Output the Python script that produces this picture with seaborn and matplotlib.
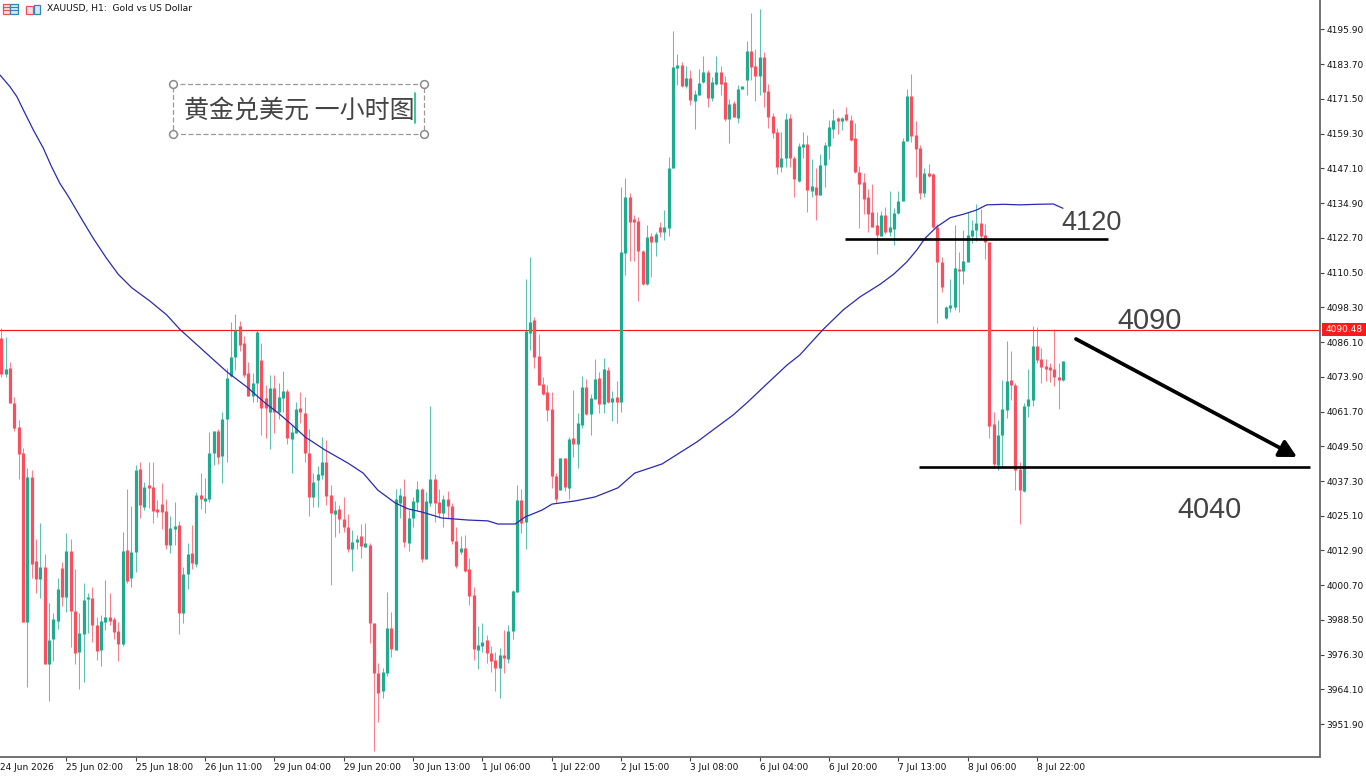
import matplotlib
matplotlib.use("Agg")
import matplotlib.pyplot as plt
from matplotlib.patches import Rectangle
import numpy as np
import pandas as pd
import seaborn as sns

TITLE = "XAUUSD, H1:  Gold vs US Dollar"
CHART_NOTE = "黄金兑美元 一小时图"
LAST_PRICE = 4090.48
LEVEL_UP = 4122.3
LEVEL_DOWN = 4042.2

opens = [4087.4,4074.9,4076.9,4064.8,4056.4,4047.0,3987.9,4038.6,4009.3,4002.8,4007.0,3973.0,3981.7,3988.2,4006.6,3996.7,4012.7,3991.8,3977.1,3983.4,3995.7,3996.3,3986.7,3977.9,3987.8,3989.4,3988.7,3984.6,3980.0,4013.1,
4003.4,4012.5,4041.5,4028.1,4035.2,4035.2,4027.1,4029.1,4026.9,4014.8,4020.6,4021.9,3990.8,4004.5,4011.9,4008.2,4032.4,4030.4,4031.0,4047.3,4055.0,4046.1,4059.0,4074.2,4080.8,4091.8,4085.7,4075.1,4067.3,4071.9,
4079.8,4066.4,4061.7,4069.9,4061.7,4066.4,4069.0,4052.1,4054.3,4062.8,4061.3,4047.3,4031.8,4037.5,4039.4,4043.9,4032.4,4025.7,4027.5,4023.9,4021.3,4013.4,4016.0,4018.0,4014.3,4014.8,3987.3,3969.7,3963.5,3970.0,
3985.6,3977.9,4029.5,4032.2,4015.6,4024.2,4030.1,4034.5,4009.9,4029.7,4037.9,4030.1,4026.2,4031.0,4028.6,4016.2,4012.5,4013.9,4006.3,3997.1,3977.9,3979.5,3981.5,3976.8,3974.4,3971.7,3976.2,3974.8,3984.7,3998.4,
4030.6,4023.0,4089.4,4093.9,4081.2,4071.3,4068.7,4062.5,4039.1,4034.2,4045.5,4034.8,4052.3,4050.2,4057.0,4070.2,4060.7,4066.1,4073.6,4064.3,4076.3,4065.2,4066.7,4065.2,4117.5,4137.0,4128.7,4128.7,4118.1,4106.4,
4123.4,4121.2,4126.4,4124.6,4126.1,4147.2,4182.4,4183.5,4175.9,4178.8,4170.8,4172.9,4177.4,4181.1,4171.8,4176.8,4181.1,4177.6,4164.6,4170.0,4164.7,4175.0,4178.0,4188.4,4183.1,4179.4,4186.2,4174.3,4165.5,4159.9,
4147.7,4150.7,4164.7,4150.7,4142.8,4154.8,4155.7,4139.3,4140.7,4137.8,4148.3,4155.1,4161.0,4164.1,4163.9,4166.3,4164.1,4157.7,4146.0,4142.3,4136.9,4131.7,4127.3,4123.4,4130.8,4124.6,4125.9,4131.4,4135.8,4156.9,
4172.6,4158.9,4154.4,4138.6,4145.6,4145.2,4126.7,4114.1,4094.5,4098.2,4098.3,4111.9,4111.2,4114.4,4123.4,4125.3,4127.8,4123.7,4121.2,4057.2,4043.0,4053.3,4062.3,4072.8,4071.1,4041.4,4033.9,4063.7,4065.8,4084.8,
4080.1,4077.7,4076.9,4076.6,4074.0,4072.8]
highs = [4090.9,4088.0,4079.2,4066.9,4058.7,4048.8,4042.0,4041.2,4016.9,4022.7,4011.6,3994.6,3991.1,4003.1,4009.0,4019.2,4016.9,4006.3,3991.1,4001.4,3997.9,4000.2,3989.4,3990.2,4002.5,3997.9,3989.7,3987.9,4019.5,4034.4,
4028.6,4042.9,4044.1,4037.1,4044.1,4043.9,4030.6,4036.7,4030.9,4025.0,4029.8,4023.4,4007.2,4015.4,4021.9,4033.6,4040.0,4038.2,4054.4,4054.9,4055.5,4061.7,4076.9,4093.3,4096.0,4093.6,4088.3,4079.2,4075.1,4090.4,
4085.7,4071.0,4074.6,4074.6,4071.9,4076.0,4069.5,4057.0,4065.2,4068.5,4066.9,4055.6,4040.0,4042.7,4052.7,4051.7,4035.9,4030.4,4028.9,4031.8,4025.7,4020.1,4018.3,4022.2,4022.7,4015.4,3987.3,3973.5,3971.5,3998.2,
3991.4,4034.4,4034.7,4037.9,4027.1,4031.6,4037.4,4034.7,4033.6,4063.7,4039.8,4034.4,4032.4,4033.9,4029.7,4021.3,4018.0,4018.3,4010.1,4000.2,3986.4,3987.3,3983.2,3979.3,3977.4,3978.5,3985.0,3986.7,3999.0,4035.9,
4034.4,4108.2,4116.1,4094.8,4088.9,4074.0,4071.0,4068.7,4040.2,4045.5,4045.5,4052.7,4069.1,4061.3,4074.2,4073.2,4067.9,4080.1,4075.7,4080.4,4077.5,4068.9,4072.5,4140.5,4143.9,4138.4,4130.8,4130.2,4118.5,4127.3,
4124.3,4124.9,4128.4,4132.5,4151.0,4195.5,4187.3,4184.6,4183.1,4181.5,4174.7,4181.9,4186.6,4181.7,4179.1,4186.6,4183.2,4179.4,4171.4,4170.9,4176.4,4175.4,4191.7,4201.6,4189.0,4203.0,4187.9,4176.8,4166.5,4161.2,
4160.0,4166.5,4166.1,4151.5,4156.2,4159.8,4158.9,4150.4,4147.2,4152.2,4156.5,4164.1,4167.9,4165.3,4165.3,4168.6,4165.9,4163.0,4148.0,4145.4,4139.8,4141.7,4131.9,4132.3,4133.5,4139.3,4133.1,4139.0,4157.9,4174.9,
4180.3,4163.6,4155.4,4147.2,4148.6,4145.4,4127.6,4115.9,4098.8,4108.2,4127.3,4117.9,4125.5,4131.7,4129.0,4134.5,4132.8,4127.6,4121.4,4061.5,4058.8,4072.8,4086.5,4083.1,4071.9,4043.9,4064.6,4076.6,4091.9,4091.5,
4083.9,4080.1,4078.7,4090.6,4078.7,4079.6]
lows = [4074.0,4073.7,4064.6,4055.0,4037.9,3987.9,3965.1,4003.1,3998.1,3996.1,3973.0,3960.0,3974.1,3985.2,3993.4,3991.4,3979.1,3973.0,3964.2,3966.8,3984.0,3980.9,3974.4,3972.3,3985.0,3986.7,3981.7,3974.1,3979.5,4001.4,
4000.0,4005.5,4024.2,4027.1,4027.7,4022.4,4024.8,4020.3,4013.3,4012.1,4014.8,3983.6,3987.3,3999.3,4006.3,4007.2,4027.4,4026.2,4030.1,4042.9,4043.3,4036.5,4044.1,4073.7,4076.3,4082.8,4074.0,4067.3,4065.2,4065.2,
4053.5,4052.5,4048.6,4054.3,4059.0,4061.7,4050.2,4040.0,4054.1,4057.8,4044.1,4025.1,4028.1,4028.1,4037.9,4028.9,4000.8,4017.5,4018.9,4019.5,4012.5,4005.8,4013.3,4010.1,4014.0,3980.5,3942.5,3952.8,3961.0,3968.8,
3975.6,3977.9,4024.2,4014.0,4012.8,4021.3,4027.1,4009.0,4009.8,4028.5,4022.8,4024.2,4021.3,4024.2,4015.2,4006.9,4011.7,4005.5,3993.7,3974.4,3971.1,3977.4,3973.3,3970.3,3963.7,3961.0,3970.0,3973.3,3981.7,3998.4,
4018.9,4013.3,4083.3,4077.1,4071.0,4067.5,4058.5,4035.0,4029.5,4034.2,4033.9,4031.0,4045.9,4041.8,4055.8,4060.5,4053.5,4066.0,4061.1,4061.3,4064.6,4058.5,4057.8,4061.4,4109.7,4114.7,4114.7,4100.7,4106.2,4106.2,
4108.8,4116.5,4122.9,4121.8,4123.2,4147.2,4176.4,4175.6,4175.5,4169.4,4160.9,4172.9,4177.0,4168.8,4170.9,4176.4,4172.9,4163.9,4156.0,4165.0,4163.0,4174.9,4172.9,4178.0,4170.9,4172.9,4168.8,4161.2,4157.9,4145.2,
4146.0,4147.5,4147.5,4136.9,4142.5,4150.7,4131.9,4137.2,4129.0,4137.8,4140.5,4150.4,4157.7,4159.1,4160.6,4163.9,4156.9,4145.6,4126.1,4131.0,4124.9,4126.7,4117.1,4123.2,4124.1,4123.2,4120.2,4131.1,4135.5,4156.9,
4156.5,4144.2,4136.3,4137.2,4144.2,4126.1,4092.7,4103.8,4094.1,4096.5,4097.4,4096.8,4106.5,4114.4,4120.8,4121.6,4122.0,4115.2,4052.3,4042.6,4041.0,4042.4,4059.3,4065.8,4034.2,4022.1,4033.6,4059.9,4063.7,4078.7,
4071.9,4072.5,4072.2,4070.7,4062.7,4072.6]
closes = [4074.9,4076.5,4064.6,4055.8,4046.7,3987.9,4038.6,4008.2,4002.8,4007.0,3973.0,3981.5,3988.7,3999.4,3996.7,4012.7,3991.8,3976.8,3983.8,3995.5,3996.4,3986.7,3977.6,3988.2,3989.4,3988.2,3984.4,3980.0,4012.7,4002.2,
4012.4,4041.2,4028.9,4035.3,4035.0,4026.9,4026.5,4026.5,4014.8,4020.7,4021.2,3990.8,4004.6,4011.6,4008.4,4032.4,4030.9,4031.2,4047.3,4054.9,4045.9,4059.0,4073.6,4080.8,4090.4,4085.1,4074.6,4067.3,4071.6,4089.8,
4062.8,4062.8,4069.9,4061.7,4066.7,4068.9,4052.3,4054.4,4062.5,4061.4,4047.0,4031.8,4037.1,4039.7,4043.9,4032.2,4025.9,4027.1,4023.9,4021.3,4013.4,4016.0,4016.9,4014.5,4015.4,3987.5,3969.7,3962.9,3970.1,3985.6,
3978.3,4030.9,4032.4,4016.0,4024.4,4030.3,4034.4,4009.9,4030.3,4037.9,4029.7,4026.2,4031.0,4028.5,4016.2,4007.6,4013.6,4005.7,3996.9,3978.3,3979.7,3980.9,3976.8,3974.1,3971.7,3976.2,3975.0,3984.6,3998.8,4030.6,
4022.7,4090.0,4093.3,4081.0,4071.0,4067.9,4062.3,4039.1,4031.0,4045.5,4035.3,4052.0,4050.2,4057.6,4070.2,4060.7,4066.4,4073.2,4064.4,4076.7,4065.2,4066.4,4065.2,4117.7,4137.0,4128.4,4128.3,4118.1,4106.4,4122.9,
4121.2,4124.1,4124.6,4126.4,4147.4,4182.6,4183.5,4175.9,4178.8,4171.2,4173.2,4177.0,4181.1,4171.8,4177.4,4181.1,4176.8,4164.4,4169.8,4165.0,4175.0,4175.3,4188.4,4182.9,4179.7,4186.2,4174.1,4165.3,4159.7,4147.7,
4150.7,4164.5,4150.7,4143.3,4155.0,4155.4,4139.6,4141.0,4137.8,4148.3,4155.4,4161.5,4164.1,4163.9,4164.9,4164.1,4157.1,4145.8,4141.7,4136.4,4131.1,4126.7,4123.7,4130.8,4124.7,4126.4,4131.4,4135.8,4156.9,4172.6,
4158.5,4154.0,4138.4,4145.6,4144.5,4126.7,4114.4,4105.4,4098.6,4098.6,4112.0,4110.9,4114.6,4123.7,4125.3,4127.8,4123.4,4121.4,4056.8,4043.2,4053.5,4062.6,4072.6,4071.1,4041.0,4034.2,4063.7,4066.0,4084.8,4079.8,
4077.3,4076.7,4076.3,4074.0,4072.8,4079.3]

ma_bar = [-0.3,2.0,3.6,5.1,7.4,9.7,11.6,13.5,15.5,18.2,21.2,24.3,27.0,30.1,34.3,38.2,41.2,46.5,52.1,56.7,60.9,63.9,67.1,70.1,74.7,80,83.5,86.9,90.9,93.9,97.1,101.7,107.7,112.3,114.6,118.6,120.9,123.2,124.8,127.1,132.4,137,142.3,146.2,152.5,160.5,168.9,172.3,176.6,181.3,184.3,187.4,189.7,194.3,198.2,202.8,205.9,209.0,211.3,213.2,215.9,219.0,222.0,225.1,227.4,231.3,235.1,239.0,242.8,245]
ma_val = [4179.9,4175.8,4172.3,4167.6,4160.6,4154.2,4147.7,4141.9,4137.2,4130.2,4122.6,4115.5,4109.9,4105.2,4100.5,4095.6,4090.6,4083.3,4075.6,4070.3,4064.7,4061.2,4057.0,4052.8,4048.2,4043.6,4040.1,4034.1,4029.6,4027.5,4026.4,4024.3,4023.6,4023.3,4022.2,4022.2,4024.7,4026.1,4027.1,4029.2,4030.3,4031.7,4034.9,4040.1,4043.3,4051.0,4060.5,4065.1,4071.3,4078.0,4081.6,4086.8,4090.6,4097.4,4102.0,4106.4,4109.9,4114.3,4118.5,4122.6,4126.6,4129.8,4131.0,4132.5,4134.3,4134.5,4134.3,4134.5,4134.6,4133.1]

y_ticks = [4195.90,4183.70,4171.50,4159.30,4147.10,4134.90,4122.70,4110.50,4098.30,4086.10,4073.90,4061.70,4049.50,4037.30,4025.10,4012.90,4000.70,3988.50,3976.30,3964.10,3951.90]
x_labels = ["24 Jun 2026","25 Jun 02:00","25 Jun 18:00","26 Jun 11:00","29 Jun 04:00","29 Jun 20:00","30 Jun 13:00","1 Jul 06:00","1 Jul 22:00","2 Jul 15:00","3 Jul 08:00","6 Jul 04:00","6 Jul 20:00","7 Jul 13:00","8 Jul 06:00","8 Jul 22:00"]

W, H = 1366, 776
AX_R, AX_B = 1319.5, 757.3
PX_PER_BAR = 69.33 / 16
BAR0_PX = 1.3
PX_PER_PRICE = 1 / 0.35125
TOP_PRICE = 4206.26

sns.set_theme(style="white")
plt.rcParams["font.family"] = ["DejaVu Sans"]

fig = plt.figure(figsize=(W / 100, H / 100), dpi=100, facecolor="white")
ax = fig.add_axes([0, 1 - AX_B / H, AX_R / W, AX_B / H])
ax.set_xlim(-BAR0_PX / PX_PER_BAR, (AX_R - BAR0_PX) / PX_PER_BAR)
ax.set_ylim(TOP_PRICE - AX_B / PX_PER_PRICE, TOP_PRICE)

df = pd.DataFrame({"bar": np.arange(len(opens)), "open": opens, "high": highs, "low": lows, "close": closes})
up = df["close"] >= df["open"]
GREEN, RED = "#1fab8f", "#fb4f5f"
colors = np.where(up, GREEN, RED)

wicks = ax.vlines(df["bar"], df["low"], df["high"], colors=colors, linewidth=0.75, alpha=0.72, zorder=2)
wicks.set_snap(True)
bottom = df[["open", "close"]].min(axis=1)
top = bottom + (df["open"] - df["close"]).abs().clip(lower=0.9)
bodies = ax.vlines(df["bar"], bottom, top, colors=colors, linewidth=2.3, zorder=3)
bodies.set_snap(True)

sns.lineplot(x=ma_bar, y=ma_val, ax=ax, color="#2a2ab0", linewidth=0.9, zorder=4, legend=False)
ax.set_xlabel("")
ax.set_ylabel("")

ax.axhline(LAST_PRICE, color="#f01818", linewidth=0.85, zorder=1)

def bx(px):
    return (px - BAR0_PX) / PX_PER_BAR

def py(px):
    return TOP_PRICE - px / PX_PER_PRICE

ax.plot([bx(845), bx(1108)], [LEVEL_UP, LEVEL_UP], color="black", linewidth=1.9, zorder=5, solid_capstyle="butt")
ax.plot([bx(919), bx(1310)], [LEVEL_DOWN, LEVEL_DOWN], color="black", linewidth=1.9, zorder=5, solid_capstyle="butt")
ax.annotate("", xy=(bx(1297), py(457)), xytext=(bx(1076), py(339)),
            arrowprops=dict(arrowstyle="-|>,head_length=0.85,head_width=0.45", color="black", lw=2.7, shrinkA=0, shrinkB=0), zorder=5)

for txt, cx, cy, fs in [("4120", 1092, 222.5, 19.5), ("4090", 1149.5, 321, 20.8), ("4040", 1209.5, 510.5, 20.8)]:
    ax.text(bx(cx), py(cy), txt, ha="center", va="center", fontsize=fs, color="#444444",
            family="Liberation Sans", zorder=6)

for s in ["top", "left"]:
    ax.spines[s].set_visible(False)
for s in ["right", "bottom"]:
    ax.spines[s].set_visible(True)
    ax.spines[s].set_color("#666666")
    ax.spines[s].set_linewidth(1.3)

ax.yaxis.tick_right()
ax.set_yticks(y_ticks)
ax.set_yticklabels([f"{v:.2f}" for v in y_ticks], fontsize=6.5, color="#111111")
ax.tick_params(axis="y", length=3, width=0.8, color="#444444", pad=2, right=True, left=False, direction="out")
tick_bars = [15 + 16 * k for k in range(15)]
ax.set_xticks(tick_bars)
ax.set_xticklabels([])
ax.tick_params(axis="x", length=3, width=0.8, color="#444444", bottom=True, direction="out")

def fx(px):
    return px / W

def fy(px):
    return 1 - px / H

for k, lab in enumerate(x_labels):
    tick_px = BAR0_PX + (15 + 16 * (k - 1)) * PX_PER_BAR
    fig.text(fx(max(tick_px, 0.5)), fy(768), lab, fontsize=6.5, color="#111111", ha="left", va="center")

fig.patches.append(Rectangle((fx(1322), fy(336)), 44 / W, 13 / H, transform=fig.transFigure, facecolor="#ff1a1a", edgecolor="none"))
fig.text(fx(1344), fy(329.7), f"{LAST_PRICE:.2f}", fontsize=6.5, color="white", ha="center", va="center", zorder=10)

# header text and the two small toolbar icons
fig.text(fx(47), fy(9), TITLE, fontsize=6.6, color="#111111", ha="left", va="center")
def icon_box(l, t, w, h, col, fill="none"):
    fig.patches.append(Rectangle((fx(l), fy(t + h)), w / W, h / H, transform=fig.transFigure,
                                 facecolor=fill, edgecolor=col, linewidth=0.9))
icon_box(3, 4, 7, 10, "#e5525e", "#fbdcdc")
icon_box(10, 4, 8, 10, "#2d86b5", "#d5e9f4")
for ly in (7, 10):
    fig.add_artist(plt.Line2D([fx(3), fx(10)], [fy(ly), fy(ly)], color="#e5525e", lw=0.8))
    fig.add_artist(plt.Line2D([fx(10), fx(18)], [fy(ly), fy(ly)], color="#2d86b5", lw=0.8))
icon_box(26, 6, 7, 8, "#e5525e", "#fbdcdc")
icon_box(34, 5, 6, 9, "#2d86b5", "#d5e9f4")

# text box
BOX_L, BOX_T, BOX_R, BOX_B = 173, 83.5, 424, 134
box = Rectangle((bx(BOX_L), py(BOX_B)), bx(BOX_R) - bx(BOX_L), py(BOX_T) - py(BOX_B),
                facecolor="none", edgecolor="#999999", linewidth=0.9, linestyle=(0, (4, 2)), zorder=6)
ax.add_patch(box)
for cxp, cyp in [(BOX_L, BOX_T), (BOX_R, BOX_T), (BOX_L, BOX_B), (BOX_R, BOX_B)]:
    ax.plot([bx(cxp)], [py(cyp)], marker="o", ms=5.6, mfc="white", mec="#8a8a8a", mew=1.1, zorder=7)
ax.text(bx(184), py(112), CHART_NOTE, fontsize=18, color="#444444", ha="left", va="center",
        family=["Noto Sans CJK SC", "DejaVu Sans"], zorder=7)
ax.plot([bx(415.5), bx(415.5)], [py(93), py(123)], color="#22c78a", linewidth=1.3, zorder=7)

fig.savefig("out.png", dpi=100, facecolor="white")
